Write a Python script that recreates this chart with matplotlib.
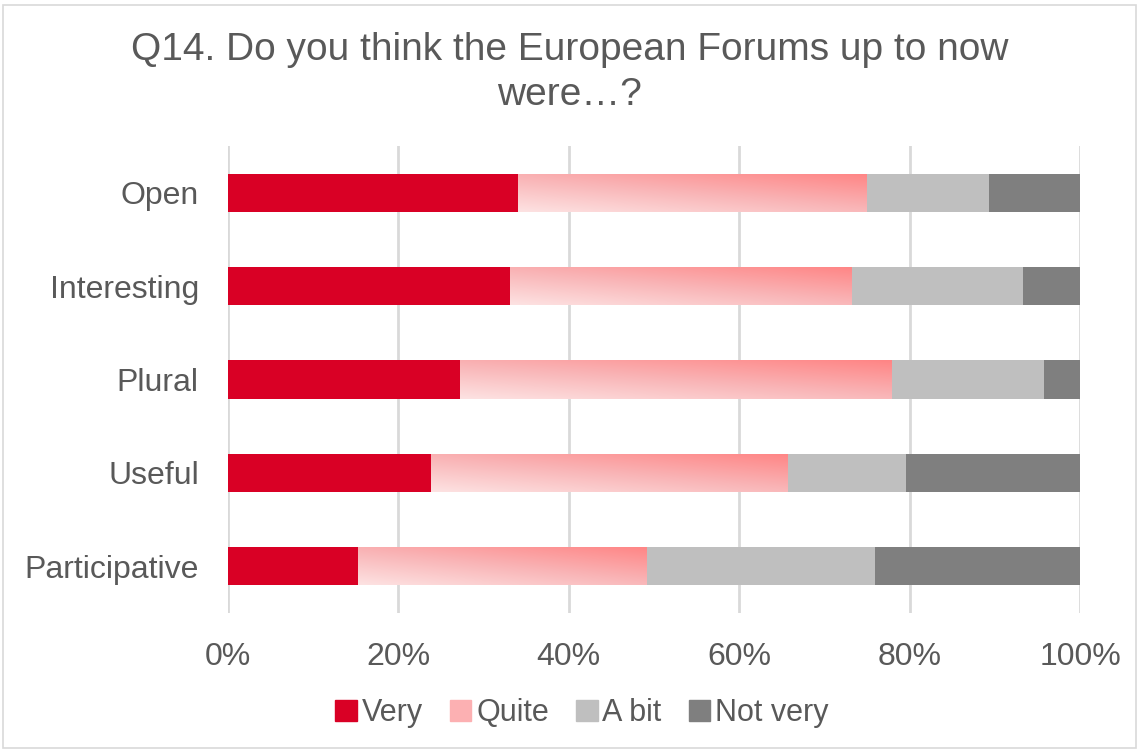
import numpy as np
import matplotlib.pyplot as plt
from matplotlib.patches import Patch, Rectangle
from matplotlib.colors import LinearSegmentedColormap

categories = ["Open", "Interesting", "Plural", "Useful", "Participative"]
very = [34.0, 33.1, 27.2, 23.8, 15.3]
quite = [40.9, 40.1, 50.7, 41.9, 33.9]
a_bit = [14.4, 20.1, 17.9, 13.9, 26.7]
not_very = [10.7, 6.7, 4.2, 20.4, 24.1]

plt.rcParams["font.family"] = ["Liberation Sans", "DejaVu Sans"]
text_col = "#595959"

fig = plt.figure(figsize=(11.39, 7.51), dpi=100)
ax = fig.add_axes([228 / 1139, 1 - 613 / 751, (1080 - 228) / 1139, (613 - 146) / 751])

y = np.arange(len(categories))
h = 0.41
left = np.zeros(len(categories))
b_very = ax.barh(y, very, h, left=left, color="#d90025", zorder=3)
left += very
b_quite = ax.barh(y, quite, h, left=left, color="none", zorder=3)
left += quite
b_abit = ax.barh(y, a_bit, h, left=left, color="#bfbfbf", zorder=3)
left += a_bit
b_not = ax.barh(y, not_very, h, left=left, color="#7f7f7f", zorder=3)

# diagonal gradient for "Quite": light bottom-left, dark top-right
cmap = LinearSegmentedColormap.from_list("pk", ["#fde2e2", "#f9b4b6", "#ff8585"])
nx, ny = 200, 40
uu, vv = np.meshgrid(np.linspace(0, 1, nx), np.linspace(0, 1, ny))
for bar in b_quite:
    x0, yb = bar.get_x(), bar.get_y()
    w, hh = bar.get_width(), bar.get_height()
    grad = 0.45 * uu + 0.55 * vv
    im = ax.imshow(grad, cmap=cmap, vmin=0, vmax=1, origin="lower",
                   extent=(x0, x0 + w, yb + hh, yb), aspect="auto", zorder=3)
    im.set_clip_path(bar)

ax.set_xlim(0, 100)
ax.set_ylim(len(categories) - 0.5, -0.5)
ax.set_aspect("auto")
ax.set_yticks(y)
ax.set_yticklabels(categories, fontsize=23, color=text_col)
ax.set_xticks(np.arange(0, 101, 20))
ax.set_xticklabels([f"{v}%" for v in range(0, 101, 20)], fontsize=23, color=text_col)
ax.tick_params(length=0)
ax.tick_params(axis="y", pad=21)
ax.tick_params(axis="x", pad=21)
ax.grid(axis="x", color="#d9d9d9", linewidth=2, zorder=0)
for s in ax.spines.values():
    s.set_visible(False)

fig.suptitle("Q14. Do you think the European Forums up to now\nwere…?",
             fontsize=28, color=text_col, y=0.958, linespacing=1.35)

handles = [Patch(color="#d90025"), Patch(color="#fcb0b2"),
           Patch(color="#bfbfbf"), Patch(color="#7f7f7f")]
fig.legend(handles, ["Very", "Quite", "A bit", "Not very"], loc="center",
           bbox_to_anchor=(582 / 1139, 1 - 713 / 751), ncol=4, frameon=False,
           fontsize=22, labelcolor=text_col, handlelength=0.7, handleheight=0.7,
           handletextpad=0.15, columnspacing=0.9)

fig.patches.append(Rectangle((3 / 1139, 3 / 751), 1 - 6 / 1139, 1 - 8 / 751,
                             transform=fig.transFigure, fill=False,
                             edgecolor="#d9d9d9", linewidth=1.2))

fig.savefig("out.png", dpi=100)
plt.close(fig)
